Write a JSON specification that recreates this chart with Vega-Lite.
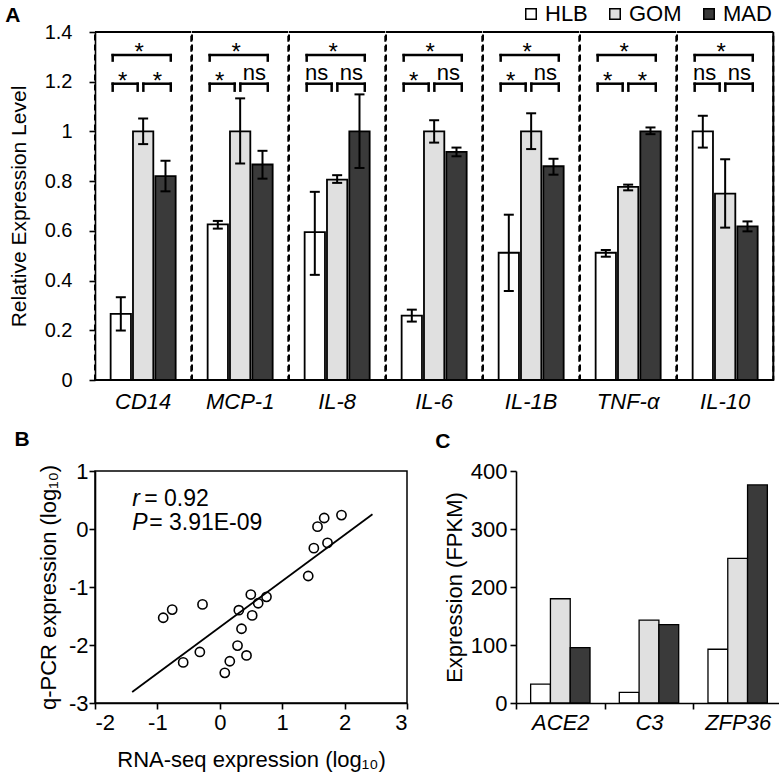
{
  "$schema": "https://vega.github.io/schema/vega-lite/v6.json",
  "padding": {"left": 5, "top": 3, "right": 4, "bottom": 2},
  "datasets": {
    "a": [
      {"gene": "CD14", "group": "HLB", "value": 0.266, "lo": 0.199, "hi": 0.333},
      {"gene": "CD14", "group": "GOM", "value": 1.0, "lo": 0.949, "hi": 1.052},
      {"gene": "CD14", "group": "MAD", "value": 0.82, "lo": 0.759, "hi": 0.882},
      {"gene": "MCP-1", "group": "HLB", "value": 0.626, "lo": 0.609, "hi": 0.64},
      {"gene": "MCP-1", "group": "GOM", "value": 1.0, "lo": 0.871, "hi": 1.133},
      {"gene": "MCP-1", "group": "MAD", "value": 0.867, "lo": 0.81, "hi": 0.922},
      {"gene": "IL-8", "group": "HLB", "value": 0.595, "lo": 0.423, "hi": 0.757},
      {"gene": "IL-8", "group": "GOM", "value": 0.806, "lo": 0.793, "hi": 0.824},
      {"gene": "IL-8", "group": "MAD", "value": 1.0, "lo": 0.853, "hi": 1.149},
      {"gene": "IL-6", "group": "HLB", "value": 0.259, "lo": 0.235, "hi": 0.283},
      {"gene": "IL-6", "group": "GOM", "value": 1.0, "lo": 0.955, "hi": 1.045},
      {"gene": "IL-6", "group": "MAD", "value": 0.918, "lo": 0.9, "hi": 0.935},
      {"gene": "IL-1B", "group": "HLB", "value": 0.512, "lo": 0.358, "hi": 0.665},
      {"gene": "IL-1B", "group": "GOM", "value": 1.0, "lo": 0.929, "hi": 1.073},
      {"gene": "IL-1B", "group": "MAD", "value": 0.86, "lo": 0.826, "hi": 0.89},
      {"gene": "TNF-α", "group": "HLB", "value": 0.512, "lo": 0.496, "hi": 0.523},
      {"gene": "TNF-α", "group": "GOM", "value": 0.777, "lo": 0.763, "hi": 0.786},
      {"gene": "TNF-α", "group": "MAD", "value": 1.0, "lo": 0.989, "hi": 1.016},
      {"gene": "IL-10", "group": "HLB", "value": 1.0, "lo": 0.935, "hi": 1.063},
      {"gene": "IL-10", "group": "GOM", "value": 0.75, "lo": 0.613, "hi": 0.888},
      {"gene": "IL-10", "group": "MAD", "value": 0.618, "lo": 0.598, "hi": 0.638},
      {"gene": "CD14", "pair": "top", "label": "*"},
      {"gene": "CD14", "pair": "left", "label": "*"},
      {"gene": "CD14", "pair": "right", "label": "*"},
      {"gene": "MCP-1", "pair": "top", "label": "*"},
      {"gene": "MCP-1", "pair": "left", "label": "*"},
      {"gene": "MCP-1", "pair": "right", "label": "ns"},
      {"gene": "IL-8", "pair": "top", "label": "*"},
      {"gene": "IL-8", "pair": "left", "label": "ns"},
      {"gene": "IL-8", "pair": "right", "label": "ns"},
      {"gene": "IL-6", "pair": "top", "label": "*"},
      {"gene": "IL-6", "pair": "left", "label": "*"},
      {"gene": "IL-6", "pair": "right", "label": "ns"},
      {"gene": "IL-1B", "pair": "top", "label": "*"},
      {"gene": "IL-1B", "pair": "left", "label": "*"},
      {"gene": "IL-1B", "pair": "right", "label": "ns"},
      {"gene": "TNF-α", "pair": "top", "label": "*"},
      {"gene": "TNF-α", "pair": "left", "label": "*"},
      {"gene": "TNF-α", "pair": "right", "label": "*"},
      {"gene": "IL-10", "pair": "top", "label": "*"},
      {"gene": "IL-10", "pair": "left", "label": "ns"},
      {"gene": "IL-10", "pair": "right", "label": "ns"}
    ],
    "bpts": [
      {"x": -0.907, "y": -1.53}, {"x": -0.763, "y": -1.39}, {"x": -0.277, "y": -1.30},
      {"x": -0.587, "y": -2.30}, {"x": -0.32, "y": -2.12}, {"x": 0.08, "y": -2.48},
      {"x": 0.16, "y": -2.28}, {"x": 0.284, "y": -2.01}, {"x": 0.428, "y": -2.18},
      {"x": 0.348, "y": -1.72}, {"x": 0.305, "y": -1.40}, {"x": 0.519, "y": -1.49},
      {"x": 0.497, "y": -1.13}, {"x": 0.615, "y": -1.28}, {"x": 0.748, "y": -1.17},
      {"x": 1.417, "y": -0.81}, {"x": 1.507, "y": -0.33}, {"x": 1.726, "y": -0.24},
      {"x": 1.566, "y": 0.04}, {"x": 1.673, "y": 0.19}, {"x": 1.95, "y": 0.24}
    ],
    "bfit": [{"x": -1.404, "y": -2.81}, {"x": 2.447, "y": 0.255}],
    "bstat": [{"stat": "r", "text": "= 0.92"}, {"stat": "P", "text": "= 3.91E-09"}],
    "c": [
      {"gene": "ACE2", "group": "HLB", "value": 32.6},
      {"gene": "ACE2", "group": "GOM", "value": 179.7},
      {"gene": "ACE2", "group": "MAD", "value": 95.6},
      {"gene": "C3", "group": "HLB", "value": 18.3},
      {"gene": "C3", "group": "GOM", "value": 143},
      {"gene": "C3", "group": "MAD", "value": 135},
      {"gene": "ZFP36", "group": "HLB", "value": 92.7},
      {"gene": "ZFP36", "group": "GOM", "value": 249.5},
      {"gene": "ZFP36", "group": "MAD", "value": 376}
    ]
  },
  "spacing": 15,
  "vconcat": [
    {
      "data": {"name": "a"},
      "title": {"text": "A", "dx": -3, "offset": -4},
      "facet": {
        "column": {
          "field": "gene", "type": "nominal",
          "sort": ["CD14", "MCP-1", "IL-8", "IL-6", "IL-1B", "TNF-α", "IL-10"],
          "title": null,
          "header": {"labelOrient": "bottom", "labelFontStyle": "italic", "labelFontSize": 22, "labelPadding": 12, "labelColor": "black"}
        }
      },
      "spacing": 0,
      "bounds": "flush",
      "spec": {
        "width": 96.3,
        "height": 348,
        "view": {"stroke": "black", "strokeDash": [6, 4], "strokeWidth": 2},
        "layer": [
          {
            "transform": [{"filter": "datum.pair == 'top'"}],
            "mark": {"type": "rule", "strokeWidth": 2, "color": "black"},
            "encoding": {"y": {"datum": 1.4}}
          },
          {
            "transform": [{"filter": "datum.pair == 'top'"}],
            "mark": {"type": "rule", "strokeWidth": 2, "color": "black"},
            "encoding": {"y": {"datum": 0}}
          },
          {
            "transform": [{"filter": "isValid(datum.value)"}],
            "mark": {"type": "bar", "stroke": "black", "strokeWidth": 1.8},
            "encoding": {
              "x": {"field": "group", "type": "nominal", "sort": ["HLB", "GOM", "MAD"],
                    "scale": {"domain": ["HLB", "GOM", "MAD"], "paddingInner": 0.09, "paddingOuter": 0.7}, "axis": null},
              "y": {"field": "value", "type": "quantitative", "scale": {"domain": [0, 1.4], "nice": false},
                    "axis": {"title": "Relative Expression Level", "values": [0, 0.2, 0.4, 0.6, 0.8, 1, 1.2, 1.4], "format": "~g",
                             "labelFontSize": 20, "titleFontSize": 21, "labelPadding": 17, "titlePadding": 15}},
              "color": {"field": "group", "type": "nominal",
                        "scale": {"domain": ["HLB", "GOM", "MAD"], "range": ["#ffffff", "#e0e0e0", "#3a3a3a"]},
                        "legend": {"orient": "none", "legendX": 425, "legendY": -29, "direction": "horizontal", "title": null,
                                   "symbolType": "square", "symbolSize": 110, "symbolStrokeColor": "black", "symbolStrokeWidth": 1.5,
                                   "symbolOpacity": 1, "labelFontSize": 22, "labelOffset": 3, "columnPadding": 16, "labelColor": "black"}}
            }
          },
          {
            "transform": [{"filter": "isValid(datum.value)"}],
            "mark": {"type": "rule", "strokeWidth": 2, "color": "black"},
            "encoding": {
              "x": {"field": "group", "type": "nominal"},
              "y": {"field": "lo", "type": "quantitative"},
              "y2": {"field": "hi"}
            }
          },
          {
            "transform": [{"filter": "isValid(datum.value)"}],
            "mark": {"type": "tick", "orient": "horizontal", "size": 10, "thickness": 2, "color": "black", "opacity": 1},
            "encoding": {"x": {"field": "group", "type": "nominal"}, "y": {"field": "lo", "type": "quantitative"}}
          },
          {
            "transform": [{"filter": "isValid(datum.value)"}],
            "mark": {"type": "tick", "orient": "horizontal", "size": 10, "thickness": 2, "color": "black", "opacity": 1},
            "encoding": {"x": {"field": "group", "type": "nominal"}, "y": {"field": "hi", "type": "quantitative"}}
          },
          {
            "transform": [{"filter": "datum.pair == 'top'"}],
            "mark": {"type": "rule", "strokeWidth": 2.5, "color": "black", "strokeCap": "square"},
            "encoding": {"x": {"datum": "HLB", "bandPosition": 0.1}, "x2": {"datum": "MAD", "bandPosition": 0.76}, "y": {"datum": 1.307}}
          },
          {
            "transform": [{"filter": "datum.pair == 'top'"}],
            "mark": {"type": "rule", "strokeWidth": 2.5, "color": "black", "strokeCap": "square"},
            "encoding": {"x": {"datum": "HLB", "bandPosition": 0.1}, "y": {"datum": 1.285}, "y2": {"datum": 1.307}}
          },
          {
            "transform": [{"filter": "datum.pair == 'top'"}],
            "mark": {"type": "rule", "strokeWidth": 2.5, "color": "black", "strokeCap": "square"},
            "encoding": {"x": {"datum": "MAD", "bandPosition": 0.76}, "y": {"datum": 1.285}, "y2": {"datum": 1.307}}
          },
          {
            "transform": [{"filter": "datum.pair == 'top'"}],
            "mark": {"type": "text", "baseline": "alphabetic", "color": "black",
                     "dy": {"expr": "datum.label == '*' ? 5 : -4"}, "fontSize": {"expr": "datum.label == '*' ? 24 : 22"}},
            "encoding": {"x": {"datum": "GOM", "bandPosition": 0.31}, "y": {"datum": 1.307}, "text": {"field": "label"}}
          },
          {
            "transform": [{"filter": "datum.pair == 'left'"}],
            "mark": {"type": "rule", "strokeWidth": 2.5, "color": "black", "strokeCap": "square"},
            "encoding": {"x": {"datum": "HLB", "bandPosition": 0.1}, "x2": {"datum": "GOM", "bandPosition": 0.23}, "y": {"datum": 1.192}}
          },
          {
            "transform": [{"filter": "datum.pair == 'left'"}],
            "mark": {"type": "rule", "strokeWidth": 2.5, "color": "black", "strokeCap": "square"},
            "encoding": {"x": {"datum": "HLB", "bandPosition": 0.1}, "y": {"datum": 1.164}, "y2": {"datum": 1.192}}
          },
          {
            "transform": [{"filter": "datum.pair == 'left'"}],
            "mark": {"type": "rule", "strokeWidth": 2.5, "color": "black", "strokeCap": "square"},
            "encoding": {"x": {"datum": "GOM", "bandPosition": 0.23}, "y": {"datum": 1.164}, "y2": {"datum": 1.192}}
          },
          {
            "transform": [{"filter": "datum.pair == 'left'"}],
            "mark": {"type": "text", "baseline": "alphabetic", "color": "black",
                     "dy": {"expr": "datum.label == '*' ? 5 : -4"}, "fontSize": {"expr": "datum.label == '*' ? 24 : 22"}},
            "encoding": {"x": {"datum": "HLB", "bandPosition": 0.59}, "y": {"datum": 1.192}, "text": {"field": "label"}}
          },
          {
            "transform": [{"filter": "datum.pair == 'right'"}],
            "mark": {"type": "rule", "strokeWidth": 2.5, "color": "black", "strokeCap": "square"},
            "encoding": {"x": {"datum": "GOM", "bandPosition": 0.51}, "x2": {"datum": "MAD", "bandPosition": 0.76}, "y": {"datum": 1.192}}
          },
          {
            "transform": [{"filter": "datum.pair == 'right'"}],
            "mark": {"type": "rule", "strokeWidth": 2.5, "color": "black", "strokeCap": "square"},
            "encoding": {"x": {"datum": "GOM", "bandPosition": 0.51}, "y": {"datum": 1.164}, "y2": {"datum": 1.192}}
          },
          {
            "transform": [{"filter": "datum.pair == 'right'"}],
            "mark": {"type": "rule", "strokeWidth": 2.5, "color": "black", "strokeCap": "square"},
            "encoding": {"x": {"datum": "MAD", "bandPosition": 0.76}, "y": {"datum": 1.164}, "y2": {"datum": 1.192}}
          },
          {
            "transform": [{"filter": "datum.pair == 'right'"}],
            "mark": {"type": "text", "baseline": "alphabetic", "color": "black",
                     "dy": {"expr": "datum.label == '*' ? 5 : -4"}, "fontSize": {"expr": "datum.label == '*' ? 24 : 22"}},
            "encoding": {"x": {"datum": "MAD", "bandPosition": 0.1}, "y": {"datum": 1.192}, "text": {"field": "label"}}
          },
          {
            "transform": [{"filter": "datum.pair == 'top' && datum.gene == 'IL-10'"}],
            "mark": {"type": "rule", "strokeWidth": 2, "color": "black"},
            "encoding": {"x": {"datum": "MAD", "bandPosition": 1.769}, "y": {"datum": 0}, "y2": {"datum": 1.4}}
          }
        ]
      }
    },
    {
      "spacing": 26,
      "hconcat": [
        {
          "title": {"text": "B", "dx": -23, "offset": 10},
          "width": 312,
          "height": 232,
          "view": {"stroke": "black", "strokeWidth": 1.5},
          "layer": [
            {
              "data": {"name": "bfit"},
              "mark": {"type": "line", "color": "black", "strokeWidth": 1.8},
              "encoding": {
                "x": {"field": "x", "type": "quantitative", "scale": {"domain": [-2, 3], "nice": false},
                      "axis": {"title": "RNA-seq expression (log₁₀)", "values": [-2, -1, 0, 1, 2, 3], "labelExpr": "'' + datum.value",
                               "labelFontSize": 22, "titleFontSize": 22, "titlePadding": 16, "labelPadding": 3}},
                "y": {"field": "y", "type": "quantitative", "scale": {"domain": [-3, 1], "nice": false},
                      "axis": {"title": "q-PCR expression (log₁₀)", "values": [-3, -2, -1, 0, 1], "labelExpr": "'' + datum.value",
                               "labelFontSize": 22, "titleFontSize": 22, "titlePadding": 8, "labelPadding": 1}}
              }
            },
            {
              "data": {"name": "bpts"},
              "mark": {"type": "point", "shape": "circle", "filled": false, "color": "black", "strokeWidth": 1.6, "size": 85, "opacity": 1},
              "encoding": {"x": {"field": "x", "type": "quantitative"}, "y": {"field": "y", "type": "quantitative"}}
            },
            {
              "data": {"name": "bstat"},
              "transform": [{"filter": "datum.stat == 'r'"}],
              "mark": {"type": "text", "fontStyle": "italic", "fontSize": 23, "align": "left", "baseline": "alphabetic", "color": "black"},
              "encoding": {"x": {"datum": -1.404}, "y": {"datum": 0.39}, "text": {"field": "stat"}}
            },
            {
              "data": {"name": "bstat"},
              "transform": [{"filter": "datum.stat == 'r'"}],
              "mark": {"type": "text", "fontSize": 23, "align": "left", "baseline": "alphabetic", "dx": 12, "color": "black"},
              "encoding": {"x": {"datum": -1.404}, "y": {"datum": 0.39}, "text": {"field": "text"}}
            },
            {
              "data": {"name": "bstat"},
              "transform": [{"filter": "datum.stat == 'P'"}],
              "mark": {"type": "text", "fontStyle": "italic", "fontSize": 23, "align": "left", "baseline": "alphabetic", "color": "black"},
              "encoding": {"x": {"datum": -1.404}, "y": {"datum": -0.02}, "text": {"field": "stat"}}
            },
            {
              "data": {"name": "bstat"},
              "transform": [{"filter": "datum.stat == 'P'"}],
              "mark": {"type": "text", "fontSize": 23, "align": "left", "baseline": "alphabetic", "dx": 17, "color": "black"},
              "encoding": {"x": {"datum": -1.404}, "y": {"datum": -0.02}, "text": {"field": "text"}}
            }
          ]
        },
        {
          "title": {"text": "C", "dx": -8, "offset": 8},
          "width": 266,
          "height": 232,
          "data": {"name": "c"},
          "mark": {"type": "bar", "stroke": "black", "strokeWidth": 1.3},
          "encoding": {
            "x": {"field": "gene", "type": "nominal", "sort": ["ACE2", "C3", "ZFP36"], "scale": {"paddingInner": 0, "paddingOuter": 0},
                  "axis": {"title": null, "labelAngle": 0, "tickBand": "extent", "labelFontStyle": "italic", "labelFontSize": 22, "labelPadding": 3}},
            "xOffset": {"field": "group", "type": "nominal", "sort": ["HLB", "GOM", "MAD"],
                        "scale": {"domain": ["HLB", "GOM", "MAD"], "paddingInner": 0, "paddingOuter": 0.74}},
            "y": {"field": "value", "type": "quantitative", "scale": {"domain": [0, 400], "nice": false},
                  "axis": {"title": "Expression (FPKM)", "values": [0, 100, 200, 300, 400], "labelFontSize": 22, "titleFontSize": 22, "titlePadding": 4, "labelPadding": 3}},
            "color": {"field": "group", "type": "nominal",
                      "scale": {"domain": ["HLB", "GOM", "MAD"], "range": ["#ffffff", "#e0e0e0", "#3a3a3a"]},
                      "legend": {"orient": "none", "legendX": 425, "legendY": -29, "direction": "horizontal", "title": null,
                                 "symbolType": "square", "symbolSize": 110, "symbolStrokeColor": "black", "symbolStrokeWidth": 1.5,
                                 "symbolOpacity": 1, "labelFontSize": 22, "labelOffset": 3, "columnPadding": 16, "labelColor": "black"}}
          }
        }
      ]
    }
  ],
  "config": {
    "font": "Liberation Sans",
    "view": {"stroke": null},
    "axis": {"domainColor": "black", "tickColor": "black", "labelColor": "black", "titleColor": "black",
             "domainWidth": 1.6, "tickWidth": 1.6, "tickSize": 6, "grid": false, "titleFontWeight": "normal",
             "labelFontSize": 21, "titleFontSize": 21},
    "title": {"fontSize": 21, "fontWeight": "bold", "anchor": "start", "frame": "bounds", "color": "black"},
    "header": {"labelColor": "black"}
  }
}
